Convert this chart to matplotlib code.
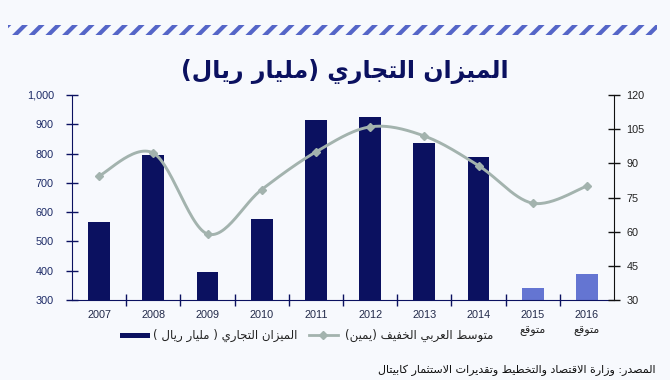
import matplotlib
matplotlib.use("Agg")
import matplotlib.pyplot as plt
from matplotlib.patches import Rectangle
from matplotlib.lines import Line2D
from matplotlib.ticker import FuncFormatter, MultipleLocator
import numpy as np

# ---- data ----
years = ["2007", "2008", "2009", "2010", "2011", "2012", "2013", "2014", "2015", "2016"]
forecast = [False] * 8 + [True, True]
trade_balance = [565, 795, 395, 575, 915, 925, 835, 790, 340, 388]   # left axis, bn riyal
arab_light = [84.5, 94.5, 59, 78.5, 95, 106, 102, 89, 72.5, 80]       # right axis, $/bbl

title = "الميزان التجاري (مليار ريال)"
legend_bar = "الميزان التجاري ( مليار ريال )"
legend_line = "متوسط العربي الخفيف (يمين)"
forecast_label = "متوقع"
source = "المصدر: وزارة الاقتصاد والتخطيط وتقديرات الاستثمار كابيتال"

NAVY = "#0b1160"
LIGHT = "#6475d2"
GREY = "#a3b3ae"
BG = "#f7f9fd"


# ---- minimal arabic shaping (matplotlib has no complex text layout) ----
def _forms():
    tbl = {}
    base = 0xFE80
    # (char, number of forms) in presentation-forms-B order
    seq = [("ء", 1), ("آ", 2), ("أ", 2), ("ؤ", 2), ("إ", 2), ("ئ", 4), ("ا", 2),
           ("ب", 4), ("ة", 2), ("ت", 4), ("ث", 4), ("ج", 4), ("ح", 4), ("خ", 4),
           ("د", 2), ("ذ", 2), ("ر", 2), ("ز", 2), ("س", 4), ("ش", 4), ("ص", 4),
           ("ض", 4), ("ط", 4), ("ظ", 4), ("ع", 4), ("غ", 4), ("ف", 4), ("ق", 4),
           ("ك", 4), ("ل", 4), ("م", 4), ("ن", 4), ("ه", 4), ("و", 2), ("ى", 2),
           ("ي", 4)]
    for ch, n in seq:
        tbl[ch] = [chr(base + i) for i in range(n)]
        base += n
    return tbl


FORMS = _forms()
LAM_ALEF = {"آ": "\uFEF5", "أ": "\uFEF7", "إ": "\uFEF9", "ا": "\uFEFB"}
MIRROR = {"(": ")", ")": "("}


def dual(c):
    return c in FORMS and len(FORMS[c]) == 4


def shape(text):
    chars = list(text)
    out = []
    i = 0
    while i < len(chars):
        c = chars[i]
        if c not in FORMS:
            out.append(c)
            i += 1
            continue
        prev = chars[i - 1] if i > 0 else ""
        joins_prev = dual(prev)
        if c == "ل" and i + 1 < len(chars) and chars[i + 1] in LAM_ALEF:
            lig = LAM_ALEF[chars[i + 1]]
            out.append(chr(ord(lig) + 1) if joins_prev else lig)
            i += 2
            continue
        nxt = chars[i + 1] if i + 1 < len(chars) else ""
        joins_next = dual(c) and nxt in FORMS
        f = FORMS[c]
        if len(f) == 1:
            out.append(f[0])
        elif len(f) == 2:
            out.append(f[1] if joins_prev else f[0])
        else:
            if joins_prev and joins_next:
                out.append(f[3])
            elif joins_prev:
                out.append(f[1])
            elif joins_next:
                out.append(f[2])
            else:
                out.append(f[0])
        i += 1
    return "".join(MIRROR.get(c, c) for c in reversed(out))


plt.rcParams["font.family"] = ["Liberation Sans", "DejaVu Sans"]

fig = plt.figure(figsize=(6.7, 3.8), dpi=100, facecolor=BG)

# striped band at the top
plt.rcParams["hatch.linewidth"] = 3.0
band = Rectangle((8 / 670, 1 - 35 / 380), 649 / 670, 10 / 380, transform=fig.transFigure,
                 facecolor=BG, edgecolor="#5566c8", hatch="//", linewidth=0)
fig.patches.append(band)

fig.text(345 / 670, 1 - 71 / 380, shape(title), ha="center", va="center",
         fontsize=17, fontweight="bold", color=NAVY, family="DejaVu Sans")

ax = fig.add_axes([72 / 670, 1 - 300 / 380, 542 / 670, 205 / 380])
ax.set_facecolor(BG)
x = np.arange(len(years))
colors = [LIGHT if f else NAVY for f in forecast]
ax.bar(x, np.array(trade_balance) - 300, bottom=300, width=0.4, color=colors, zorder=2)
ax.set_xlim(-0.5, len(years) - 0.5)
ax.set_ylim(300, 1000)
ax.yaxis.set_major_locator(MultipleLocator(100))
ax.yaxis.set_major_formatter(FuncFormatter(lambda v, p: f"{int(v):,}"))
ax.set_xticks(np.arange(len(years) - 1) + 0.5)
ax.set_xticklabels([])
ax.tick_params(axis="x", direction="inout", length=8, color=NAVY, width=1)
ax.tick_params(axis="y", direction="inout", length=8, color=NAVY, width=1,
               labelsize=7.8, labelcolor="#1c2a66", pad=9)
for s in ["top", "right"]:
    ax.spines[s].set_visible(False)
ax.spines["left"].set_color(NAVY)
ax.spines["bottom"].set_color(NAVY)

for xi, yr in zip(x, years):
    ax.text(xi, -0.075, yr, transform=ax.get_xaxis_transform(), ha="center", va="center",
            fontsize=7.8, color="#222a4a")
for xi, f in zip(x, forecast):
    if f:
        ax.text(xi, -0.15, shape(forecast_label), transform=ax.get_xaxis_transform(),
                ha="center", va="center", fontsize=8, color="#222222", family="DejaVu Sans")

ax2 = ax.twinx()
ax2.set_ylim(30, 120)
ax2.yaxis.set_major_locator(MultipleLocator(15))
ax2.tick_params(axis="y", direction="inout", length=8, color="#111111", width=1,
                labelsize=7.8, labelcolor="#222222", pad=5)
for s in ["top", "left", "bottom"]:
    ax2.spines[s].set_visible(False)
ax2.spines["right"].set_color("#111111")
ax2.patch.set_visible(False)

# smoothed line through the points (Catmull-Rom, like a spreadsheet "smooth line")
px = x.astype(float)
py = np.array(arab_light, dtype=float)
sx, sy = [], []
n = len(px)
t = np.linspace(0, 1, 30)
h00 = 2 * t**3 - 3 * t**2 + 1
h10 = t**3 - 2 * t**2 + t
h01 = -2 * t**3 + 3 * t**2
h11 = t**3 - t**2
for i in range(n - 1):
    i0, i3 = max(i - 1, 0), min(i + 2, n - 1)
    for src, dst in ((px, sx), (py, sy)):
        m1 = (src[i + 1] - src[i0]) / 2
        m2 = (src[i3] - src[i]) / 2
        dst.append(h00 * src[i] + h10 * m1 + h01 * src[i + 1] + h11 * m2)
ax2.plot(np.concatenate(sx), np.concatenate(sy), color=GREY, lw=2.1, zorder=3)
ax2.plot(px, py, linestyle="none", marker="D", markersize=4.5, color=GREY, zorder=4)

# legend drawn by hand (right-to-left layout)
ly = 1 - 335 / 380
fig.patches.append(Rectangle((120 / 670, ly - 2.5 / 380), 30 / 670, 5 / 380,
                             transform=fig.transFigure, facecolor=NAVY, edgecolor="none"))
fig.text(153 / 670, ly, shape(legend_bar), ha="left", va="center", fontsize=8.5,
         color="#222222", family="DejaVu Sans")
fig.lines.append(Line2D([309 / 670, 338 / 670], [ly, ly], transform=fig.transFigure,
                        color=GREY, lw=2))
fig.lines.append(Line2D([323 / 670], [ly], transform=fig.transFigure, color=GREY,
                        marker="D", markersize=4))
fig.text(345 / 670, ly, shape(legend_line), ha="left", va="center", fontsize=8.5,
         color="#222222", family="DejaVu Sans")

fig.text(655 / 670, 1 - 370 / 380, shape(source), ha="right", va="center", fontsize=8,
         color="#111111", family="DejaVu Sans")

fig.savefig("out.png", dpi=100, facecolor=BG)
